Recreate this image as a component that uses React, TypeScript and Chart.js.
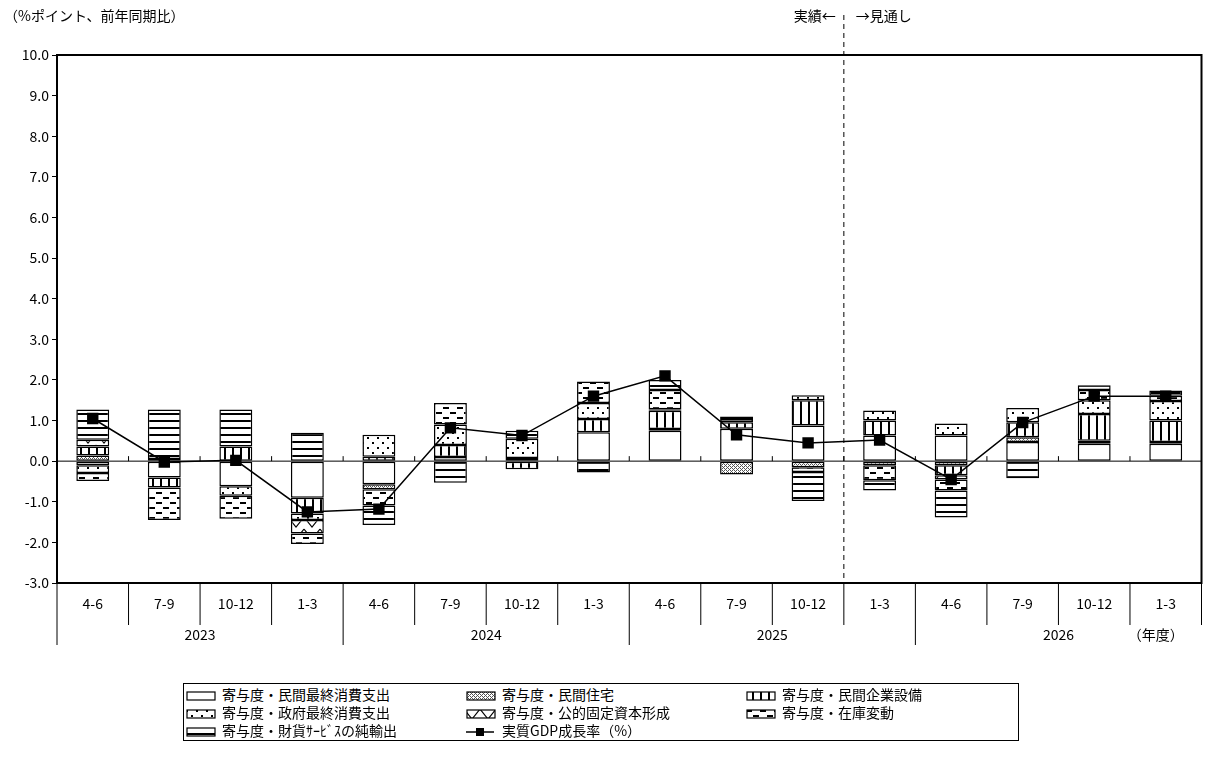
import React, { useEffect, useRef } from 'react';
import Chart from 'chart.js/auto';

const quarters = ['4-6', '7-9', '10-12', '1-3', '4-6', '7-9', '10-12', '1-3', '4-6', '7-9', '10-12', '1-3', '4-6', '7-9', '10-12', '1-3'];
const years = ['2023', '2024', '2025', '2026'];

const consumption = [-0.1, -0.4, -0.62, -0.9, -0.57, 0.1, 0.08, 0.71, 0.75, 0.8, 0.88, 0.63, 0.63, 0.47, 0.43, 0.43];
const housing = [0.14, 0.05, 0, 0, -0.12, 0, 0, 0, 0.04, -0.33, -0.15, -0.1, -0.1, 0.12, 0.07, 0.04];
const capex = [0.22, -0.25, 0.36, -0.39, 0.11, 0.3, -0.2, 0.33, 0.45, 0.16, 0.62, 0.37, -0.25, 0.37, 0.66, 0.53];
const government = [-0.19, 0, -0.23, -0.16, 0.54, 0.5, 0.47, 0.39, 0.04, 0.08, 0.12, 0.25, 0.3, 0.35, 0.34, 0.48];
const publicInv = [0.17, 0, 0, -0.33, 0, 0, 0, 0, 0, 0, 0, 0, -0.1, 0, 0, 0];
const inventory = [-0.2, -0.8, -0.57, -0.26, -0.4, 0.53, 0, 0.53, 0.47, 0, -0.12, -0.37, -0.27, 0, 0.25, 0.13];
const netExports = [0.74, 1.22, 0.91, 0.7, -0.48, -0.53, 0.2, -0.28, 0.25, 0.06, -0.71, -0.25, -0.67, -0.42, 0.12, 0.13];
const gdp = [1.05, -0.02, 0.02, -1.25, -1.18, 0.82, 0.63, 1.6, 2.1, 0.65, 0.45, 0.52, -0.45, 0.95, 1.6, 1.6];
const yTicks = [-3, -2, -1, 0, 1, 2, 3, 4, 5, 6, 7, 8, 9, 10];

const FONT = '"Noto Sans CJK JP", sans-serif';

type Kind = 'white' | 'cross' | 'vert' | 'dots' | 'zigzag' | 'dash' | 'horiz';

function makeTile(kind: Kind): HTMLCanvasElement {
  const c = document.createElement('canvas');
  const s = kind === 'cross' ? 4 : kind === 'dots' ? 10 : kind === 'zigzag' ? 16 : kind === 'dash' ? 14 : 8;
  c.width = s;
  c.height = kind === 'horiz' ? 7 : kind === 'dash' ? 10 : kind === 'zigzag' ? 12 : s;
  const g = c.getContext('2d')!;
  g.fillStyle = '#fff';
  g.fillRect(0, 0, c.width, c.height);
  g.fillStyle = '#000';
  g.strokeStyle = '#000';
  if (kind === 'cross') {
    g.fillStyle = '#555';
    g.fillRect(0, 0, 1, 1); g.fillRect(2, 2, 1, 1); g.fillRect(1, 1, 1, 1); g.fillRect(3, 3, 1, 1);
    g.fillRect(2, 0, 1, 1); g.fillRect(0, 2, 1, 1);
  } else if (kind === 'vert') {
    g.fillRect(0, 0, 2, s);
  } else if (kind === 'horiz') {
    g.fillRect(0, 0, s, 2);
  } else if (kind === 'dots') {
    g.fillRect(2, 2, 2, 2); g.fillRect(7, 7, 2, 2);
  } else if (kind === 'dash') {
    g.fillRect(2, 2, 6, 2); g.fillRect(9, 7, 5, 2); g.fillRect(0, 7, 1, 2);
  } else if (kind === 'zigzag') {
    g.lineWidth = 1.2;
    g.beginPath(); g.moveTo(0, 1); g.lineTo(8, 11); g.lineTo(16, 1); g.stroke();
  }
  return c;
}

function fillFor(kind: Kind): string | CanvasPattern {
  if (kind === 'white') return '#fff';
  const ctx = document.createElement('canvas').getContext('2d')!;
  return ctx.createPattern(makeTile(kind), 'repeat')!;
}

const series: { label: string; data: number[]; kind: Kind }[] = [
  { label: '寄与度・民間最終消費支出', data: consumption, kind: 'white' },
  { label: '寄与度・民間住宅', data: housing, kind: 'cross' },
  { label: '寄与度・民間企業設備', data: capex, kind: 'vert' },
  { label: '寄与度・政府最終消費支出', data: government, kind: 'dots' },
  { label: '寄与度・公的固定資本形成', data: publicInv, kind: 'zigzag' },
  { label: '寄与度・在庫変動', data: inventory, kind: 'dash' },
  { label: '寄与度・財貨ｻｰﾋﾞｽの純輸出', data: netExports, kind: 'horiz' },
];

const Swatch: React.FC<{ kind: Kind | 'line' }> = ({ kind }) => {
  const ref = useRef<HTMLCanvasElement>(null);
  useEffect(() => {
    const g = ref.current?.getContext('2d');
    if (!g) return;
    g.clearRect(0, 0, 40, 12);
    if (kind === 'line') {
      g.strokeStyle = '#000'; g.lineWidth = 1.5;
      g.beginPath(); g.moveTo(2, 6); g.lineTo(30, 6); g.stroke();
      g.fillStyle = '#000'; g.fillRect(12, 2, 8, 8);
      return;
    }
    g.fillStyle = fillFor(kind);
    g.fillRect(3, 2, 28, 8);
    g.strokeStyle = '#000'; g.lineWidth = 1.2;
    g.strokeRect(3, 2, 28, 8);
  }, [kind]);
  return <canvas ref={ref} width={32} height={12} style={{ marginRight: 6, verticalAlign: 'middle' }} />;
};

const App: React.FC = () => {
  const chartRef = useRef<HTMLCanvasElement>(null);
  const chartInstance = useRef<Chart | null>(null);

  useEffect(() => {
    document.body.style.margin = '0';
    if (!chartRef.current) return;
    if (chartInstance.current) chartInstance.current.destroy();
    const ctx = chartRef.current.getContext('2d');
    if (!ctx) return;

    const decor = {
      id: 'decor',
      afterDatasetsDraw(chart: any) {
        const { ctx: c, chartArea: a, scales } = chart;
        const x = scales.x, y = scales.y;
        const y0 = y.getPixelForValue(0);
        const step = x.getPixelForValue(1) - x.getPixelForValue(0);
        c.save();
        c.strokeStyle = '#000';
        c.lineWidth = 1;
        c.beginPath(); c.moveTo(a.left, y0); c.lineTo(a.right, y0); c.stroke();
        for (let i = 1; i < quarters.length; i++) {
          const px = x.getPixelForValue(i) - step / 2;
          c.beginPath(); c.moveTo(px, y0); c.lineTo(px, y0 - 5); c.stroke();
        }
        const dx = x.getPixelForValue(11) - step / 2;
        c.setLineDash([5, 4]);
        c.beginPath(); c.moveTo(dx, a.top - 40); c.lineTo(dx, a.bottom); c.stroke();
        c.setLineDash([]);
        c.fillStyle = '#000';
        c.font = `14px ${FONT}`;
        c.textBaseline = 'middle';
        c.textAlign = 'right';
        c.fillText('実績←', dx - 8, 16);
        c.textAlign = 'left';
        c.fillText('→見通し', dx + 12, 16);
        c.fillText('（%ポイント、前年同期比）', 4, 16);
        c.lineWidth = 2;
        c.strokeRect(a.left, a.top, a.right - a.left, a.bottom - a.top);
        c.lineWidth = 1;
        c.textAlign = 'center';
        const r1 = a.bottom + 42, r2 = a.bottom + 62;
        for (let i = 0; i <= quarters.length; i++) {
          const px = i === quarters.length ? a.right : x.getPixelForValue(i) - step / 2;
          const bottom = i % 4 === 0 && i < quarters.length ? r2 : r1;
          c.beginPath(); c.moveTo(px, a.bottom); c.lineTo(px, bottom); c.stroke();
          if (i < quarters.length) c.fillText(quarters[i], x.getPixelForValue(i), a.bottom + 21);
        }
        years.forEach((yr, k) => {
          const mid = (x.getPixelForValue(k * 4) + x.getPixelForValue(k * 4 + 3)) / 2;
          c.fillText(yr, mid, a.bottom + 52);
        });
        c.fillText('（年度）', x.getPixelForValue(15) - 10, a.bottom + 52);
        c.restore();
      },
    };

    chartInstance.current = new Chart(ctx, {
      type: 'bar',
      data: {
        labels: quarters,
        datasets: [
          ...series.map((s) => ({
            type: 'bar' as const,
            label: s.label,
            data: s.data,
            backgroundColor: fillFor(s.kind) as any,
            borderColor: '#000',
            borderWidth: 1.5,
            borderSkipped: false as const,
            stack: 'a',
            order: 1,
            barPercentage: 0.92,
            categoryPercentage: 0.5,
          })),
          {
            type: 'line' as const,
            label: '実質GDP成長率（%）',
            data: gdp,
            borderColor: '#000',
            backgroundColor: '#000',
            borderWidth: 1.5,
            pointStyle: 'rect',
            pointRadius: 7,
            stack: 'b',
            order: 0,
          },
        ],
      },
      options: {
        responsive: false,
        animation: false,
        layout: { padding: { top: 55, right: 2, bottom: 15, left: 0 } },
        plugins: { legend: { display: false }, tooltip: { enabled: false } },
        scales: {
          x: {
            stacked: true,
            grid: { display: false },
            border: { display: false },
            ticks: { display: false },
            afterFit: (s: any) => { s.height = 62; },
          },
          y: {
            stacked: true,
            min: -3,
            max: 10,
            afterBuildTicks: (s: any) => { s.ticks = yTicks.map((v) => ({ value: v })); },
            afterFit: (s: any) => { s.width = 57; },
            grid: { drawOnChartArea: false, tickLength: 5, color: '#000' },
            border: { display: false },
            ticks: {
              color: '#000',
              font: { family: FONT, size: 14 },
              padding: 3,
              callback: (v: any) => Number(v).toFixed(1),
            },
          },
        },
      },
      plugins: [decor],
    });

    return () => {
      if (chartInstance.current) chartInstance.current.destroy();
    };
  }, []);

  const legendItems: { label: string; kind: Kind | 'line' }[] = [
    ...series.map((s) => ({ label: s.label, kind: s.kind })),
    { label: '実質GDP成長率（%）', kind: 'line' },
  ];

  return (
    <div style={{ width: 1210, height: 765, background: '#fff', fontFamily: FONT }}>
      <canvas ref={chartRef} width={1210} height={660} style={{ display: 'block' }} />
      <div
        style={{
          marginLeft: 183,
          marginTop: 23,
          width: 836,
          border: '1px solid #000',
          display: 'grid',
          gridTemplateColumns: '280px 280px 274px',
          fontSize: 14,
          lineHeight: '18px',
          padding: '1px 0',
          boxSizing: 'border-box',
        }}
      >
        {legendItems.map((it) => (
          <div key={it.label} style={{ whiteSpace: 'nowrap' }}>
            <Swatch kind={it.kind} />
            {it.label}
          </div>
        ))}
      </div>
    </div>
  );
};

export default App;
